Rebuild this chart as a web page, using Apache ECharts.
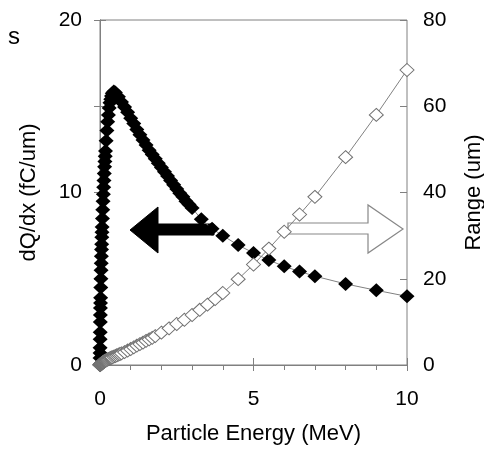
<!DOCTYPE html>
<html>
<head>
<meta charset="utf-8">
<script src="https://cdn.jsdelivr.net/npm/echarts@6/dist/echarts.min.js"></script>
<style>html,body{margin:0;padding:0;background:#fff}#c{width:484px;height:452px}</style>
</head>
<body>
<div id="c"></div>
<script>
// dQ/dx series: particle energy (MeV) and dQ/dx (fC/um)
const energyDq = [0.001,0.002,0.003,0.005,0.007,0.01,0.0125,0.015,0.0175,0.02,
  0.025,0.03,0.035,0.04,0.045,0.05,0.055,0.06,0.065,0.07,
  0.08,0.09,0.1,0.11,0.12,0.13,0.14,0.15,0.16,0.17,0.18,
  0.2,0.225,0.25,0.275,0.3,0.325,0.35,0.375,0.4,0.45,
  0.5,0.6,0.7,0.8,0.9,1.0,1.1,1.2,1.3,1.4,1.5,1.6,1.7,1.8,1.9,
  2.0,2.1,2.2,2.3,2.4,2.5,2.6,2.7,2.8,2.9,3.0,
  3.3,3.65,4.0,4.5,5.0,5.5,6.0,6.5,7.0,8.0,9.0,10.0];
const dqdx = [0.4,0.7,1.0,1.5,1.9,2.5,2.9,3.3,3.6,3.9,
  4.5,5.0,5.5,5.9,6.3,6.7,7.0,7.4,7.7,8.0,
  8.5,9.0,9.5,9.9,10.3,10.7,11.1,11.5,11.8,12.1,12.4,
  13.0,13.6,14.1,14.5,14.9,15.2,15.4,15.6,15.75,15.85,
  15.8,15.55,15.25,14.95,14.65,14.3,14.0,13.65,13.35,13.05,12.75,12.45,12.2,11.95,11.7,
  11.45,11.2,10.95,10.7,10.45,10.2,9.95,9.75,9.5,9.3,9.1,
  8.45,7.9,7.5,6.95,6.5,6.08,5.72,5.42,5.15,4.7,4.33,3.98];
// Range series: particle energy (MeV) and range (um)
const energyRange = [0.001,0.002,0.003,0.005,0.007,0.01,0.0125,0.015,0.0175,0.02,
  0.025,0.03,0.035,0.04,0.045,0.05,0.055,0.06,0.065,0.07,
  0.08,0.09,0.1,0.11,0.12,0.13,0.14,0.15,0.16,0.17,0.18,
  0.2,0.225,0.25,0.275,0.3,0.325,0.35,0.375,0.4,
  0.45,0.5,0.55,0.6,0.65,0.7,0.8,0.9,1.0,
  1.1,1.2,1.3,1.4,1.5,1.6,1.7,1.8,
  2.0,2.25,2.5,2.75,3.0,3.25,3.5,3.75,4.0,
  4.5,5.0,5.5,6.0,6.5,7.0,8.0,9.0,10.0];
const range = [0.01,0.02,0.03,0.045,0.06,0.08,0.1,0.12,0.14,0.16,
  0.2,0.23,0.26,0.29,0.32,0.35,0.38,0.41,0.44,0.47,
  0.53,0.58,0.63,0.68,0.73,0.78,0.83,0.87,0.92,0.96,1.0,
  1.08,1.18,1.27,1.36,1.45,1.54,1.62,1.7,1.8,
  1.95,2.1,2.25,2.4,2.55,2.7,3.0,3.35,3.7,
  4.1,4.5,4.85,5.2,5.6,5.95,6.3,6.7,
  7.5,8.5,9.5,10.5,11.6,12.8,14.0,15.3,16.7,
  19.9,23.3,27.0,30.9,34.9,39.0,48.2,58.0,68.4];
const xTickLabels = [0,5,10];
const leftTickLabels = [0,10,20];
const rightTickLabels = [0,20,40,60,80];

const FONT = 'Liberation Sans, Arial, sans-serif';
const GRAY = '#808080';
const chart = echarts.init(document.getElementById('c'));
const dqData = energyDq.map((e,i)=>[e,dqdx[i]]);
const rgData = energyRange.map((e,i)=>[e,range[i]]);
chart.setOption({
  animation:false,
  grid:{left:100,right:77,top:20,bottom:87,show:true,borderColor:GRAY,borderWidth:1,
    containLabel:false,outerBoundsMode:'none'},
  xAxis:[{
    type:'value',min:0,max:10,interval:5,
    name:'Particle Energy (MeV)',nameLocation:'middle',nameGap:58,
    nameTextStyle:{fontFamily:FONT,fontSize:22,color:'#000'},
    axisLine:{lineStyle:{color:GRAY}},
    axisTick:{length:6,lineStyle:{color:GRAY}},
    minorTick:{show:true,splitNumber:5,length:5,lineStyle:{color:GRAY}},
    splitLine:{show:false},
    axisLabel:{fontFamily:FONT,fontSize:21,color:'#000',margin:24,
      formatter:v=>xTickLabels.includes(v)?String(v):''}
  },{
    type:'value',min:0,max:10,interval:5,position:'bottom',
    axisLine:{show:false},axisTick:{inside:true,length:7,lineStyle:{color:GRAY}},
    axisLabel:{show:false},splitLine:{show:false}
  }],
  yAxis:[{
    type:'value',min:0,max:20,interval:5,position:'left',
    name:'dQ/dx (fC/um)',nameLocation:'middle',nameGap:60,nameRotate:90,
    nameTextStyle:{fontFamily:FONT,fontSize:22,color:'#000'},
    axisLine:{show:true,lineStyle:{color:GRAY}},
    axisTick:{show:true,length:6,lineStyle:{color:GRAY}},
    splitLine:{show:false},
    axisLabel:{fontFamily:FONT,fontSize:21,color:'#000',margin:18,
      formatter:v=>leftTickLabels.includes(v)?String(v):''}
  },{
    type:'value',min:0,max:80,interval:20,position:'right',
    name:'Range (um)',nameLocation:'middle',nameGap:56,nameRotate:90,
    nameTextStyle:{fontFamily:FONT,fontSize:22,color:'#000'},
    axisLine:{show:true,lineStyle:{color:GRAY}},
    axisTick:{show:true,length:6,lineStyle:{color:GRAY}},
    splitLine:{show:false},
    axisLabel:{fontFamily:FONT,fontSize:21,color:'#000',margin:16,
      formatter:v=>rightTickLabels.includes(v)?String(v):''}
  },{
    type:'value',min:0,max:80,interval:20,position:'right',
    axisLine:{show:false},axisTick:{show:true,inside:true,length:7,lineStyle:{color:GRAY}},
    axisLabel:{show:false},splitLine:{show:false}
  }],
  series:[{
    type:'line',xAxisIndex:0,yAxisIndex:0,data:dqData,clip:false,
    symbol:'diamond',symbolSize:[15,14],showAllSymbol:true,
    lineStyle:{color:GRAY,width:1},
    itemStyle:{color:'#000',borderColor:'#000',borderWidth:0}
  },{
    type:'line',xAxisIndex:0,yAxisIndex:1,data:rgData,clip:false,
    symbol:'diamond',symbolSize:[14,13],showAllSymbol:true,
    lineStyle:{color:GRAY,width:1},
    itemStyle:{color:'#fff',borderColor:'#707070',borderWidth:1}
  }],
  graphic:[
    {type:'text',left:8,top:25,style:{text:'s',fontFamily:FONT,fontSize:24,fill:'#000'}},
    {type:'polygon',shape:{points:[[130,230],[158,207],[158,224],[214,224],[214,235],[158,235],[158,253]]},
      style:{fill:'#000',stroke:'#000'}},
    {type:'polygon',shape:{points:[[288,223],[368,223],[368,205],[403,229],[368,253],[368,234],[288,234]]},
      style:{fill:'#fff',stroke:'#888',lineWidth:1.2}}
  ]
});
</script>
</body>
</html>
